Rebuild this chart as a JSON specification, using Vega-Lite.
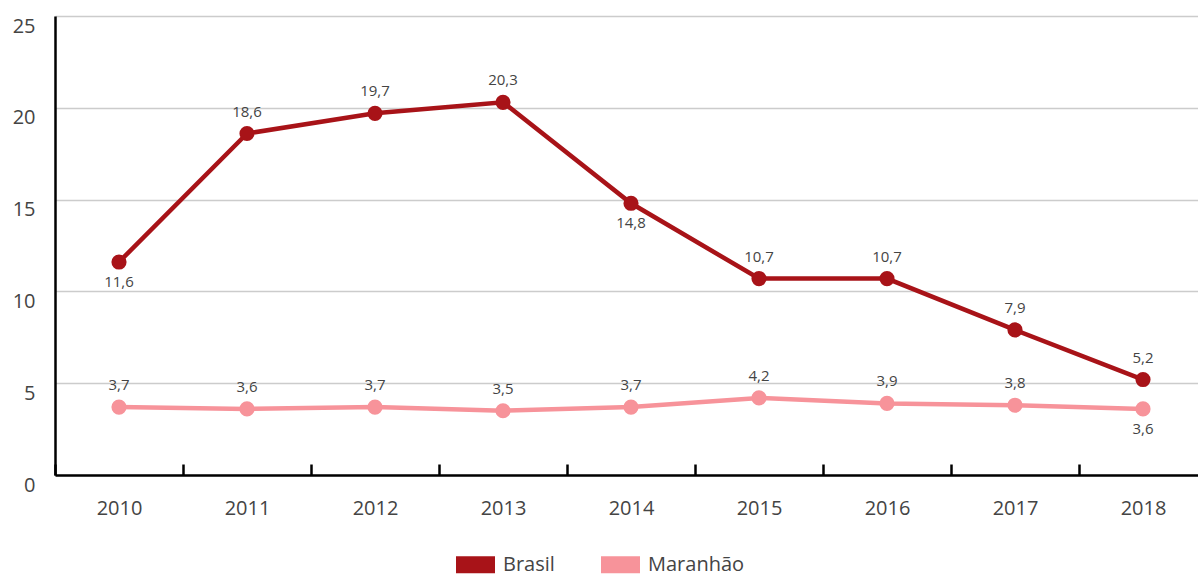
{
  "$schema": "https://vega.github.io/schema/vega-lite/v6.json",
  "width": 1143,
  "height": 459,
  "autosize": {"type": "none"},
  "padding": {"left": 55, "top": 16, "right": 0, "bottom": 102},
  "config": {
    "font": "Open Sans",
    "view": {"stroke": null},
    "locale": {"number": {"decimal": ",", "thousands": ".", "grouping": [3], "currency": ["R$", ""]}}
  },
  "data": {
    "values": [
      {"ano": "2010", "serie": "Brasil", "valor": 11.6},
      {"ano": "2011", "serie": "Brasil", "valor": 18.6},
      {"ano": "2012", "serie": "Brasil", "valor": 19.7},
      {"ano": "2013", "serie": "Brasil", "valor": 20.3},
      {"ano": "2014", "serie": "Brasil", "valor": 14.8},
      {"ano": "2015", "serie": "Brasil", "valor": 10.7},
      {"ano": "2016", "serie": "Brasil", "valor": 10.7},
      {"ano": "2017", "serie": "Brasil", "valor": 7.9},
      {"ano": "2018", "serie": "Brasil", "valor": 5.2},
      {"ano": "2010", "serie": "Maranhão", "valor": 3.7},
      {"ano": "2011", "serie": "Maranhão", "valor": 3.6},
      {"ano": "2012", "serie": "Maranhão", "valor": 3.7},
      {"ano": "2013", "serie": "Maranhão", "valor": 3.5},
      {"ano": "2014", "serie": "Maranhão", "valor": 3.7},
      {"ano": "2015", "serie": "Maranhão", "valor": 4.2},
      {"ano": "2016", "serie": "Maranhão", "valor": 3.9},
      {"ano": "2017", "serie": "Maranhão", "valor": 3.8},
      {"ano": "2018", "serie": "Maranhão", "valor": 3.6}
    ]
  },
  "encoding": {
    "x": {
      "field": "ano", "type": "ordinal", "title": null,
      "scale": {"type": "band", "range": [0, 1152], "paddingInner": 0, "paddingOuter": 0},
      "axis": {
        "labelAngle": 0, "labelFontSize": 20, "labelColor": "#444", "labelFont": "Open Sans",
        "domainColor": "#000", "domainWidth": 2.5, "tickColor": "#000", "tickWidth": 2.5,
        "tickSize": -11, "tickBand": "extent", "labelPadding": 34, "grid": false
      }
    },
    "y": {
      "field": "valor", "type": "quantitative", "title": null,
      "scale": {"domain": [0, 25]},
      "axis": {
        "values": [0, 5, 10, 15, 20, 25], "labelFontSize": 20, "labelColor": "#444",
        "labelBaseline": "top", "labelPadding": 20, "ticks": false,
        "domainColor": "#000", "domainWidth": 2.5, "gridColor": "#cccccc", "gridWidth": 1.5
      }
    },
    "color": {
      "field": "serie", "type": "nominal",
      "scale": {"domain": ["Brasil", "Maranhão"], "range": ["#a81318", "#f7939a"]},
      "legend": {
        "title": null, "orient": "none", "direction": "horizontal", "legendX": 401, "legendY": 529,
        "symbolType": "M-1,-0.44H1V0.44H-1Z", "symbolSize": 1521, "symbolStrokeWidth": 0, "symbolOpacity": 1,
        "labelFontSize": 20, "labelColor": "#444", "labelOffset": 8, "columnPadding": 46
      }
    }
  },
  "layer": [
    {"mark": {"type": "line", "strokeWidth": 4.5}},
    {"mark": {"type": "point", "filled": true, "size": 230, "opacity": 1}},
    {
      "transform": [{"filter": "!((datum.serie == 'Brasil' && (datum.ano == '2010' || datum.ano == '2014')) || (datum.serie == 'Maranhão' && datum.ano == '2018'))"}],
      "mark": {"type": "text", "dy": -22, "fontSize": 15, "color": "#444"},
      "encoding": {"text": {"field": "valor", "type": "quantitative", "format": ".1f"}, "color": {"value": "#444"}}
    },
    {
      "transform": [{"filter": "(datum.serie == 'Brasil' && (datum.ano == '2010' || datum.ano == '2014')) || (datum.serie == 'Maranhão' && datum.ano == '2018')"}],
      "mark": {"type": "text", "dy": 20, "fontSize": 15, "color": "#444"},
      "encoding": {"text": {"field": "valor", "type": "quantitative", "format": ".1f"}, "color": {"value": "#444"}}
    }
  ]
}
